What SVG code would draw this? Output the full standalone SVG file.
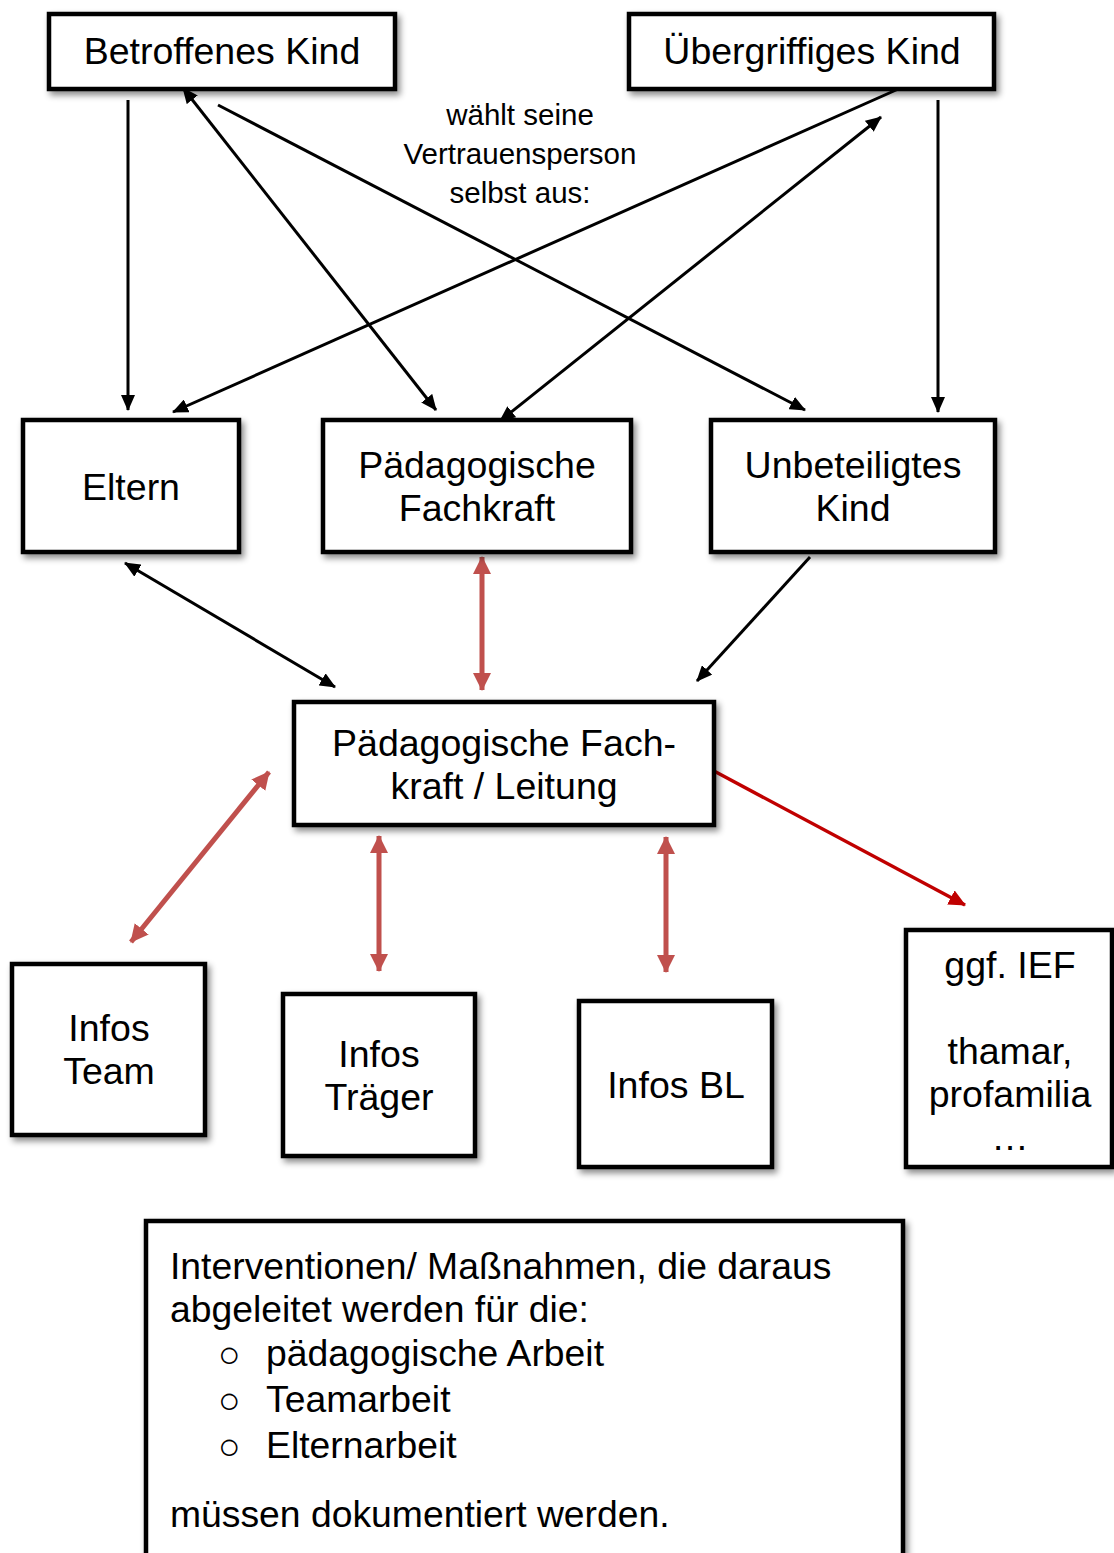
<svg xmlns="http://www.w3.org/2000/svg" width="1114" height="1553" viewBox="0 0 1114 1553">
<style>
.box{fill:#fff;stroke:#000;stroke-width:4.5;filter:url(#sh)}
.t{font-family:"Liberation Sans",Arial,sans-serif;font-size:37.5px;fill:#000;text-anchor:middle}
.tl{font-family:"Liberation Sans",Arial,sans-serif;font-size:37.3px;fill:#000}
.lab{font-family:"Liberation Sans",Arial,sans-serif;font-size:29.5px;fill:#000;text-anchor:middle}
.k{stroke:#000;stroke-width:3;fill:none}
.r{stroke:#C0504D;stroke-width:5;fill:none}
.dr{stroke:#C00000;stroke-width:3.5;fill:none}
</style>
<defs>
<filter id="sh" x="-10%" y="-10%" width="125%" height="130%">
<feDropShadow dx="3" dy="4" stdDeviation="3" flood-color="#000" flood-opacity="0.45"/>
</filter>
<marker id="ak" markerUnits="userSpaceOnUse" markerWidth="16" markerHeight="14" refX="15" refY="7" orient="auto-start-reverse"><path d="M0,0 L16,7 L0,14 z" fill="#000"/></marker>
<marker id="ar" markerUnits="userSpaceOnUse" markerWidth="18" markerHeight="18" refX="17" refY="9" orient="auto-start-reverse"><path d="M0,0 L18,9 L0,18 z" fill="#C0504D"/></marker>
<marker id="adr" markerUnits="userSpaceOnUse" markerWidth="17" markerHeight="16" refX="16" refY="8" orient="auto-start-reverse"><path d="M0,0 L17,8 L0,16 z" fill="#C00000"/></marker>
</defs>
<rect width="1114" height="1553" fill="#fff"/>

<g id="connectors">
<line class="k" x1="128" y1="100" x2="128" y2="410" marker-end="url(#ak)"/>
<line class="k" x1="183" y1="88" x2="436" y2="410" marker-start="url(#ak)" marker-end="url(#ak)"/>
<line class="k" x1="218" y1="105" x2="805" y2="410" marker-end="url(#ak)"/>
<line class="k" x1="905" y1="86" x2="173" y2="412" marker-end="url(#ak)"/>
<line class="k" x1="500" y1="421" x2="881" y2="117" marker-start="url(#ak)" marker-end="url(#ak)"/>
<line class="k" x1="938" y1="100" x2="938" y2="412" marker-end="url(#ak)"/>
<line class="k" x1="125" y1="563" x2="335" y2="687" marker-start="url(#ak)" marker-end="url(#ak)"/>
<line class="r" x1="482" y1="557" x2="482" y2="690" marker-start="url(#ar)" marker-end="url(#ar)"/>
<line class="k" x1="810" y1="557" x2="697" y2="681" marker-end="url(#ak)"/>
<line class="dr" x1="714" y1="771" x2="965" y2="905" marker-end="url(#adr)"/>
<line class="r" x1="269" y1="772" x2="131" y2="942" marker-start="url(#ar)" marker-end="url(#ar)"/>
<line class="r" x1="379" y1="836" x2="379" y2="971" marker-start="url(#ar)" marker-end="url(#ar)"/>
<line class="r" x1="666" y1="837" x2="666" y2="972" marker-start="url(#ar)" marker-end="url(#ar)"/>
</g>

<g id="label-vertrauensperson">
<text class="lab" x="520" y="125">wählt seine</text>
<text class="lab" x="520" y="164">Vertrauensperson</text>
<text class="lab" x="520" y="203">selbst aus:</text>
</g>

<g id="n-betroffenes">
<rect class="box" x="49" y="14" width="346" height="75"/>
<text class="t" x="222" y="64">Betroffenes Kind</text>
</g>
<g id="n-uebergriffiges">
<rect class="box" x="629" y="14" width="365" height="75"/>
<text class="t" x="812" y="64">Übergriffiges Kind</text>
</g>
<g id="n-eltern">
<rect class="box" x="23" y="420" width="216" height="132"/>
<text class="t" x="131" y="500">Eltern</text>
</g>
<g id="n-fachkraft">
<rect class="box" x="323" y="420" width="308" height="132"/>
<text class="t" x="477" y="478">Pädagogische</text>
<text class="t" x="477" y="521">Fachkraft</text>
</g>
<g id="n-unbeteiligtes">
<rect class="box" x="711" y="420" width="284" height="132"/>
<text class="t" x="853" y="478">Unbeteiligtes</text>
<text class="t" x="853" y="521">Kind</text>
</g>
<g id="n-leitung">
<rect class="box" x="294" y="702" width="420" height="123"/>
<text class="t" x="504" y="756">Pädagogische Fach-</text>
<text class="t" x="504" y="799">kraft / Leitung</text>
</g>
<g id="n-team">
<rect class="box" x="12" y="964" width="193" height="171"/>
<text class="t" x="109" y="1041">Infos</text>
<text class="t" x="109" y="1084">Team</text>
</g>
<g id="n-traeger">
<rect class="box" x="283" y="994" width="192" height="162"/>
<text class="t" x="379" y="1067">Infos</text>
<text class="t" x="379" y="1110">Träger</text>
</g>
<g id="n-bl">
<rect class="box" x="579" y="1001" width="193" height="166"/>
<text class="t" x="676" y="1098">Infos BL</text>
</g>
<g id="n-ief">
<rect class="box" x="906" y="930" width="206" height="237"/>
<text class="t" x="1010" y="978">ggf. IEF</text>
<text class="t" x="1010" y="1064">thamar,</text>
<text class="t" x="1010" y="1107">profamilia</text>
<text class="t" x="1010" y="1150">…</text>
</g>
<g id="n-interventionen">
<rect class="box" x="146" y="1221" width="757" height="345"/>
<text class="tl" x="170" y="1279">Interventionen/ Maßnahmen, die daraus</text>
<text class="tl" x="170" y="1322">abgeleitet werden für die:</text>
<text class="tl" x="218" y="1367" font-size="28">○</text>
<text class="tl" x="266" y="1366">pädagogische Arbeit</text>
<text class="tl" x="218" y="1413" font-size="28">○</text>
<text class="tl" x="266" y="1412">Teamarbeit</text>
<text class="tl" x="218" y="1459" font-size="28">○</text>
<text class="tl" x="266" y="1458">Elternarbeit</text>
<text class="tl" x="170" y="1527">müssen dokumentiert werden.</text>
</g>
</svg>
